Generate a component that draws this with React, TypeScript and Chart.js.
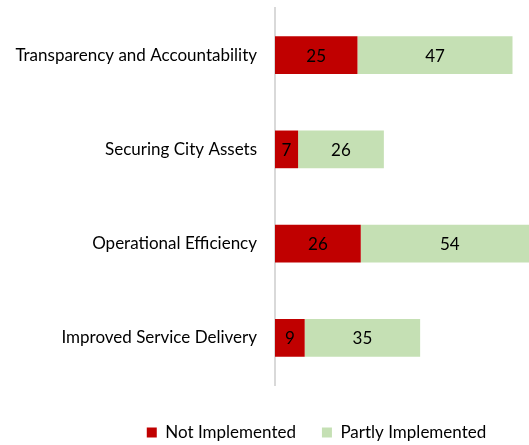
import React, { useEffect, useRef } from "react";
import { Chart, registerables } from "chart.js";

Chart.register(...registerables);

const categories = [
  "Transparency and Accountability",
  "Securing City Assets",
  "Operational Efficiency",
  "Improved Service Delivery",
];
const notImplemented = [25, 7, 26, 9];
const partlyImplemented = [47, 26, 54, 35];
const seriesNames = ["Not Implemented", "Partly Implemented"];
const seriesColors = ["#C00000", "#C5E0B4"];

const FONT = "Lato, 'Open Sans', sans-serif";

const barLabels = {
  id: "barLabels",
  afterDatasetsDraw(chart: any) {
    const ctx = chart.ctx;
    ctx.save();
    ctx.font = `17px ${FONT}`;
    ctx.fillStyle = "#000";
    ctx.textAlign = "center";
    ctx.textBaseline = "middle";
    chart.data.datasets.forEach((ds: any, di: number) => {
      const meta = chart.getDatasetMeta(di);
      meta.data.forEach((el: any, i: number) => {
        const cx = (el.x + el.base) / 2;
        ctx.fillText(String(ds.data[i]), cx, el.y + 1);
      });
    });
    ctx.restore();
  },
};

const legendPlacer = {
  id: "legendPlacer",
  afterLayout(chart: any) {
    const lg = chart.legend;
    if (!lg) return;
    const h = lg.height;
    lg.left = 104;
    lg.top = 398;
    lg.bottom = lg.top + h;
  },
};

export default function App() {
  const ref = useRef<HTMLCanvasElement>(null);
  useEffect(() => {
    if (!ref.current) return;
    const chart = new Chart(ref.current, {
      type: "bar",
      data: {
        labels: categories,
        datasets: [
          {
            label: seriesNames[0],
            data: notImplemented,
            backgroundColor: seriesColors[0],
            barPercentage: 0.8,
            categoryPercentage: 0.5,
          },
          {
            label: seriesNames[1],
            data: partlyImplemented,
            backgroundColor: seriesColors[1],
            barPercentage: 0.8,
            categoryPercentage: 0.5,
          },
        ],
      },
      options: {
        indexAxis: "y",
        responsive: false,
        animation: false,
        layout: { padding: { left: 0, top: 8, right: 0, bottom: 0 } },
        scales: {
          x: {
            stacked: true,
            min: 0,
            max: 77,
            display: true,
            grid: { display: false, drawTicks: false },
            border: { display: false },
            ticks: { display: false },
            afterFit: (s: any) => {
              s.height = 7;
              s.paddingLeft = 0;
              s.paddingRight = 0;
            },
          },
          y: {
            stacked: true,
            grid: { display: false, drawTicks: false },
            border: { display: true, color: "#D9D9D9", width: 2 },
            ticks: {
              color: "#000",
              padding: 18,
              font: { family: FONT, size: 17 },
            },
            afterFit: (s: any) => {
              s.width = 275;
              s.paddingTop = 0;
              s.paddingBottom = 0;
            },
          },
        },
        plugins: {
          legend: {
            position: "bottom",
            labels: {
              boxWidth: 10,
              boxHeight: 10,
              padding: 26,
              color: "#000",
              font: { family: FONT, size: 17 },
            },
          },
          tooltip: { enabled: false },
        },
      },
      plugins: [barLabels, legendPlacer],
    });
    return () => chart.destroy();
  }, []);
  return (
    <div style={{ position: "absolute", left: 0, top: 0, width: 529, height: 445, background: "#fff" }}>
      <canvas ref={ref} width={529} height={445} />
    </div>
  );
}
